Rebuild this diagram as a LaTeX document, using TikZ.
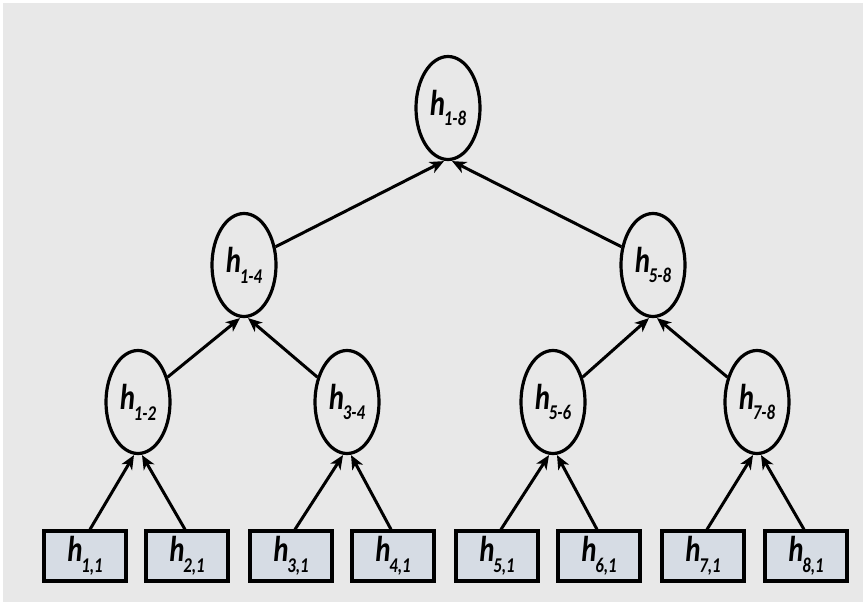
\documentclass[tikz,border=0pt]{standalone}
\usepackage{fontspec}
\setmainfont{Carlito}
\usetikzlibrary{arrows.meta,shapes.geometric}
\definecolor{bg}{HTML}{E8E8E8}
\definecolor{boxfill}{HTML}{D6DCE4}
\newcommand{\hlab}[1]{\scalebox{0.8}[1]{\fontsize{36}{38}\selectfont\bfseries\itshape h\kern-0.04em\raisebox{-0.3em}{\fontsize{21}{22}\selectfont #1}}}
\tikzset{
  circnode/.style={draw, line width=3.2pt, ellipse, minimum width=64pt, minimum height=103pt, inner sep=0pt},
  leafbox/.style={draw, line width=3.2pt, fill=boxfill, minimum width=82pt, minimum height=50pt, inner sep=0pt},
  conn/.style={line width=3pt, -{Stealth[length=14pt,width=12pt,inset=4pt]}}
}
\begin{document}
\begin{tikzpicture}[x=1pt,y=-1pt]
\useasboundingbox (0,0) rectangle (863,602);
\fill[white] (0,0) rectangle (863,602);
\fill[bg] (3,3) rectangle (863,602);
% leaves
\foreach \i/\x in {1/85,2/187,3/291,4/393,5/497,6/599,7/703,8/806}{
  \node[leafbox] (l\i) at (\x,556) {\hlab{\i,1}};
}
\node[circnode] (m12) at (138,402) {\hlab{1-2}};
\node[circnode] (m34) at (347,402) {\hlab{3-4}};
\node[circnode] (m56) at (553,402) {\hlab{5-6}};
\node[circnode] (m78) at (757,402) {\hlab{7-8}};
\node[circnode] (n14) at (244,265) {\hlab{1-4}};
\node[circnode] (n58) at (653,265) {\hlab{5-8}};
\node[circnode] (root) at (448,108) {\hlab{1-8}};
% leaf to level 3
\draw[conn] ([xshift=5pt]l1.north) -- ([xshift=-4pt]m12.south);
\draw[conn] ([xshift=-2pt]l2.north) -- ([xshift=4pt]m12.south);
\draw[conn] ([xshift=4pt]l3.north) -- ([xshift=-4pt]m34.south);
\draw[conn] ([xshift=-2pt]l4.north) -- ([xshift=4pt]m34.south);
\draw[conn] ([xshift=4pt]l5.north) -- ([xshift=-4pt]m56.south);
\draw[conn] ([xshift=-2pt]l6.north) -- ([xshift=4pt]m56.south);
\draw[conn] ([xshift=4pt]l7.north) -- ([xshift=-4pt]m78.south);
\draw[conn] ([xshift=-2pt]l8.north) -- ([xshift=4pt]m78.south);
% level 3 to level 2
\draw[conn] (m12.40) -- ([xshift=-4pt]n14.south);
\draw[conn] (m34.140) -- ([xshift=4pt]n14.south);
\draw[conn] (m56.40) -- ([xshift=-4pt]n58.south);
\draw[conn] (m78.140) -- ([xshift=4pt]n58.south);
% level 2 to root
\draw[conn] (n14.30) -- ([xshift=-4pt]root.south);
\draw[conn] (n58.150) -- ([xshift=4pt]root.south);
\end{tikzpicture}
\end{document}
